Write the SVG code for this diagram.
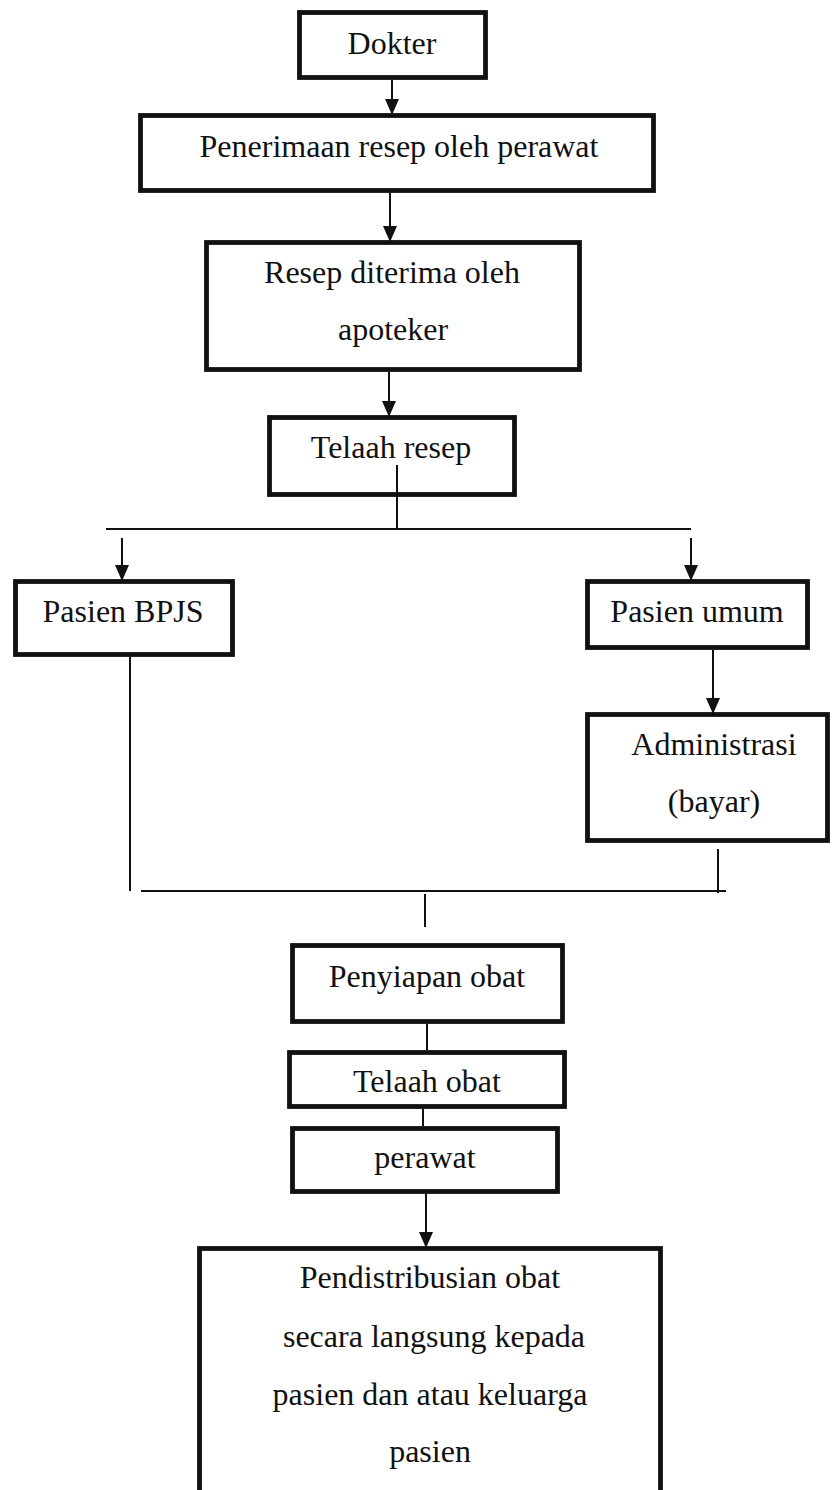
<svg xmlns="http://www.w3.org/2000/svg" width="833" height="1490" viewBox="0 0 833 1490">
<style>
.box{fill:#fff;stroke:#111;stroke-width:4.8}
.t{font-family:"Liberation Serif","Times New Roman",serif;font-size:32px;fill:#111;text-anchor:middle}
.c{stroke:#111;stroke-width:2;fill:none}
</style>
<defs>
<marker id="ah" markerUnits="userSpaceOnUse" markerWidth="16" markerHeight="16" viewBox="0 0 16 16" refX="15" refY="8" orient="auto">
<path d="M0,1 L16,8 L0,15 Z" fill="#111"/>
</marker>
</defs>
<rect width="833" height="1490" fill="#fff"/>
<g id="n-dokter"><rect class="box" x="299.5" y="12.5" width="186" height="65"/><text class="t" x="392" y="54">Dokter</text></g>
<g id="n-penerimaan"><rect class="box" x="140.5" y="115.5" width="513" height="75"/><text class="t" x="399" y="157">Penerimaan resep oleh perawat</text></g>
<g id="n-resep"><rect class="box" x="206.5" y="242.5" width="373" height="127"/><text class="t" x="392" y="283">Resep diterima oleh</text><text class="t" x="393" y="340">apoteker</text></g>
<g id="n-telaah-resep"><rect class="box" x="269.5" y="417.5" width="245" height="77"/><text class="t" x="391" y="458">Telaah resep</text></g>
<g id="n-bpjs"><rect class="box" x="15.5" y="581.5" width="217" height="73"/><text class="t" x="123" y="622">Pasien BPJS</text></g>
<g id="n-umum"><rect class="box" x="587.5" y="581.5" width="220" height="66"/><text class="t" x="697" y="622">Pasien umum</text></g>
<g id="n-admin"><rect class="box" x="587.5" y="714.5" width="240" height="126"/><text class="t" x="714" y="755">Administrasi</text><text class="t" x="714" y="812">(bayar)</text></g>
<g id="n-penyiapan"><rect class="box" x="292.5" y="945.5" width="270" height="76"/><text class="t" x="427" y="987">Penyiapan obat</text></g>
<g id="n-telaah-obat"><rect class="box" x="289.5" y="1052.5" width="275" height="54"/><text class="t" x="427" y="1092">Telaah obat</text></g>
<g id="n-perawat"><rect class="box" x="292.5" y="1128.5" width="265" height="63"/><text class="t" x="425" y="1168">perawat</text></g>
<g id="n-distribusi"><rect class="box" x="199.5" y="1248.5" width="461" height="300"/><text class="t" x="430" y="1288">Pendistribusian obat</text><text class="t" x="434" y="1347">secara langsung kepada</text><text class="t" x="430" y="1405">pasien dan atau keluarga</text><text class="t" x="430" y="1462">pasien</text></g>
<g id="connectors">
<line class="c" x1="392" y1="80" x2="392" y2="114" marker-end="url(#ah)"/>
<line class="c" x1="390" y1="193" x2="390" y2="241" marker-end="url(#ah)"/>
<line class="c" x1="389" y1="372" x2="389" y2="416" marker-end="url(#ah)"/>
<line class="c" x1="397" y1="465" x2="397" y2="529"/>
<line class="c" x1="106" y1="529" x2="691" y2="529"/>
<line class="c" x1="122" y1="538" x2="122" y2="580" marker-end="url(#ah)"/>
<line class="c" x1="691" y1="538" x2="691" y2="580" marker-end="url(#ah)"/>
<line class="c" x1="130" y1="657" x2="130" y2="891"/>
<line class="c" x1="713" y1="650" x2="713" y2="713" marker-end="url(#ah)"/>
<line class="c" x1="718" y1="849" x2="718" y2="893"/>
<line class="c" x1="141" y1="891" x2="726" y2="891"/>
<line class="c" x1="425" y1="894" x2="425" y2="927"/>
<line class="c" x1="427" y1="1024" x2="427" y2="1050"/>
<line class="c" x1="423" y1="1109" x2="423" y2="1126"/>
<line class="c" x1="426" y1="1194" x2="426" y2="1247" marker-end="url(#ah)"/>
</g>
</svg>
